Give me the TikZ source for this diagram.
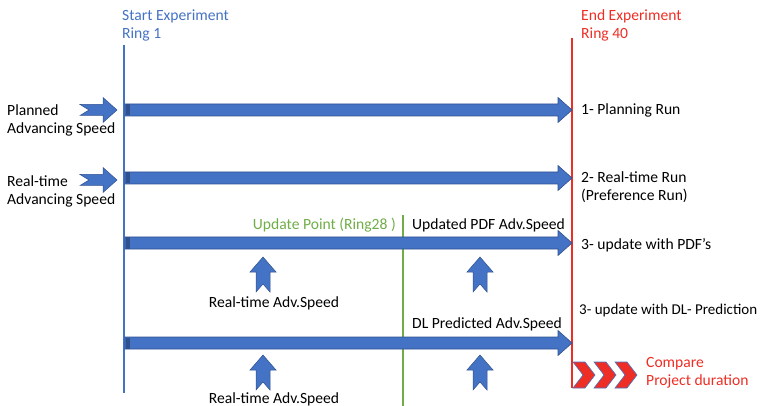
\documentclass[tikz,border=0pt]{standalone}
\usepackage{fontspec}
\setmainfont{Carlito}
\usepackage{xcolor}
\usepackage{tikz}
\usetikzlibrary{positioning, calc}

\definecolor{runblue}{HTML}{4472C4}
\definecolor{rundark}{HTML}{2F528F}
\definecolor{endred}{HTML}{EE2E24}
\definecolor{updgreen}{HTML}{70AD47}

\begin{document}
\begin{tikzpicture}[
    x=1pt, y=-1pt,
    lbl/.style={inner sep=0pt, align=left, font=\fontsize{15.6}{18}\selectfont},
    bigarrow/.style={fill=runblue, draw=rundark, line width=0.6pt},
    inarrow/.style={fill=runblue, draw=rundark, line width=0.5pt},
    chevron/.style={fill=endred, draw=runblue, line width=0.6pt},
]
\useasboundingbox (0,0) rectangle (763,406);

% time lines
\coordinate (starttop) at (124,45);
\coordinate (startbot) at (124,393);
\coordinate (endtop) at (572,38);
\coordinate (endbot) at (572,388);
\coordinate (updtop) at (403,215);
\coordinate (updbot) at (403,406);
\draw[runblue, line width=2pt] (starttop) -- (startbot);
\draw[endred, line width=2pt] (endtop) -- (endbot);
\draw[updgreen, line width=1.5pt] (updtop) -- (updbot);

\node[lbl, anchor=west, text=runblue] (start) at (122,25) {Start Experiment\\Ring 1};
\node[lbl, anchor=west, text=endred] (end) at (581,25) {End Experiment\\Ring 40};

% runs
\foreach \yc in {110,178,243,343} {
  \draw[bigarrow] (125,\yc-6) -- (558,\yc-6) -- (558,\yc-12.5) -- (572,\yc)
    -- (558,\yc+12.5) -- (558,\yc+6) -- (125,\yc+6) -- cycle;
  \fill[rundark] (125.5,\yc-5.5) rectangle (130,\yc+5.5);
}

% input speeds
\foreach \yc in {110,180} {
  \draw[inarrow] (80,\yc-5.5) -- (103,\yc-5.5) -- (103,\yc-12.5) -- (117,\yc)
    -- (103,\yc+12.5) -- (103,\yc+5.5) -- (80,\yc+5.5) -- (89,\yc) -- cycle;
}
\node[lbl, anchor=west] (planned) at (7,120) {Planned\\Advancing Speed};
\node[lbl, anchor=west] (realtime) at (7,191) {Real-time\\Advancing Speed};

% run labels
\node[lbl, anchor=west] (run1) at (581,110) {1- Planning Run};
\node[lbl, anchor=west] (run2) at (581,187) {2- Real-time Run\\(Preference Run)};
\node[lbl, anchor=west] (run3) at (581,245) {3- update with PDF’s};
\node[lbl, anchor=west, font=\fontsize{15}{18}\selectfont] (run4) at (579,311) {3- update with DL- Prediction};

% update point
\node[lbl, anchor=east, text=updgreen] (updpt) at (396,225) {Update Point (Ring28 )};
\node[lbl, anchor=west] (pdfspeed) at (412,225) {Updated PDF Adv.Speed};
\node[lbl, anchor=west] (dlspeed) at (412,324) {DL Predicted Adv.Speed};

% up arrows
\foreach \xc/\ytop in {263/257, 480/257, 263/355, 480/355} {
  \draw[inarrow] (\xc,\ytop) -- (\xc+13,\ytop+15) -- (\xc+7,\ytop+15) -- (\xc+7,\ytop+35)
    -- (\xc,\ytop+27) -- (\xc-7,\ytop+35) -- (\xc-7,\ytop+15) -- (\xc-13,\ytop+15) -- cycle;
}
\node[lbl] (rtspeed1) at (274,303) {Real-time Adv.Speed};
\node[lbl] (rtspeed2) at (274,399) {Real-time Adv.Speed};

% compare
\foreach \xs in {573,594,615} {
  \draw[chevron] (\xs,362) -- (\xs+12,362) -- (\xs+22,375) -- (\xs+12,388)
    -- (\xs,388) -- (\xs+10,375) -- cycle;
}
\node[lbl, anchor=west, text=endred] (compare) at (646,373) {Compare\\Project duration};
\end{tikzpicture}
\end{document}
